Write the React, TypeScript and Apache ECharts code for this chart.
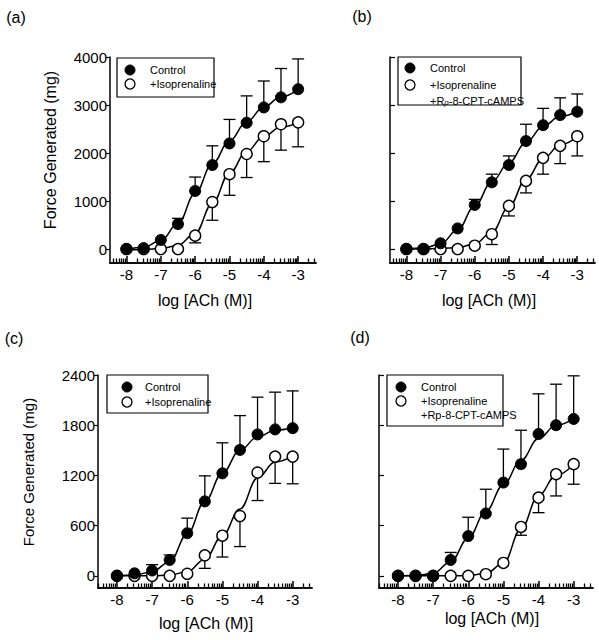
import React, { useEffect, useRef } from "react";
import * as echarts from "echarts";

const logConc = [-8, -7.5, -7, -6.5, -6, -5.5, -5, -4.5, -4, -3.5, -3];

// measured means (markers) and SEM (error bars)
const aControl = [0, 20, 190, 520, 1210, 1750, 2200, 2630, 2950, 3160, 3330];
const aControlErr = [0, 0, 0, 120, 290, 400, 500, 560, 550, 600, 630];
const aIso = [0, 0, 0, 0, 280, 980, 1560, 1980, 2350, 2600, 2640];
const aIsoErr = [0, 0, 0, 0, 150, 380, 440, 490, 530, 540, 510];

const bControl = [0, 0, 120, 430, 920, 1390, 1750, 2250, 2580, 2790, 2860];
const bControlErr = [0, 0, 0, 0, 115, 170, 190, 350, 350, 360, 370];
const bIso = [0, 0, 0, 0, 70, 310, 900, 1420, 1900, 2150, 2350];
const bIsoErr = [0, 0, 0, 0, 0, 215, 210, 250, 340, 370, 410];

const cControl = [0, 30, 64, 190, 510, 890, 1225, 1505, 1690, 1750, 1765];
const cControlErr = [0, 0, 70, 60, 180, 305, 365, 410, 445, 445, 445];
const cIso = [0, 0, 0, 0, 25, 245, 480, 715, 1235, 1425, 1425];
const cIsoErr = [0, 0, 0, 0, 0, 155, 255, 365, 335, 320, 325];

const dControl = [0, 0, 0, 190, 475, 745, 1115, 1335, 1695, 1800, 1875];
const dControlErr = [0, 0, 0, 90, 225, 290, 400, 405, 480, 490, 515];
const dIso = [0, 0, 0, 0, 0, 20, 155, 585, 935, 1215, 1335];
const dIsoErr = [0, 0, 0, 0, 0, 0, 0, 100, 180, 260, 240];

// fitted curves at the same concentrations
const aControlFit = [-10, 40, 180, 530, 1160, 1780, 2250, 2650, 2960, 3170, 3320];
const aIsoFit = [-20, -10, 10, 80, 330, 950, 1580, 2030, 2350, 2540, 2640];
const bControlFit = [0, 20, 110, 400, 900, 1400, 1800, 2220, 2560, 2760, 2870];
const bIsoFit = [0, 0, 10, 30, 110, 350, 880, 1450, 1880, 2170, 2340];
const cControlFit = [0, 10, 50, 170, 500, 890, 1230, 1500, 1660, 1740, 1770];
const cIsoFit = [0, 0, 0, 10, 50, 200, 480, 800, 1170, 1360, 1430];
const dControlFit = [0, 5, 30, 170, 450, 770, 1090, 1380, 1640, 1800, 1880];
const dIsoFit = [0, 0, 0, 0, 5, 30, 150, 560, 960, 1200, 1330];

const xTickLabels = [-8, -7, -6, -5, -4, -3];
const yTicksAB = [0, 1000, 2000, 3000, 4000];
const yTicksCD = [0, 600, 1200, 1800, 2400];

const FONT = "'Liberation Sans', Arial, sans-serif";
const NARROW = "'Liberation Sans Narrow', 'Liberation Sans', Arial, sans-serif";

// log-scale minor tick positions (2..9 within each decade)
function minorTicks(min: number, max: number) {
  const out: number[] = [];
  for (let d = -9; d <= -2; d++) {
    for (let k = 2; k <= 9; k++) {
      const v = d + Math.log10(k);
      if (v > min && v < max) out.push(v);
    }
  }
  return out;
}
function majorTicks(min: number, max: number) {
  const out: number[] = [];
  for (let d = -9; d <= -2; d++) if (d > min && d < max) out.push(d);
  return out;
}

export default function App() {
  const ref = useRef<HTMLDivElement>(null);
  useEffect(() => {
    if (!ref.current) return;
    const chart = echarts.init(ref.current, null, { renderer: "svg" });

    const panels = [
      { grid: { left: 110, top: 57, width: 206, height: 206 }, xmin: -8.48, xmax: -2.48, ymin: -290, ymax: 4000, yTicks: yTicksAB, labels: true, ctrl: aControl, ctrlErr: aControlErr, iso: aIso, isoErr: aIsoErr, ctrlFit: aControlFit, isoFit: aIsoFit },
      { grid: { left: 390, top: 57, width: 205, height: 206 }, xmin: -8.48, xmax: -2.48, ymin: -290, ymax: 4000, yTicks: yTicksAB, labels: false, ctrl: bControl, ctrlErr: bControlErr, iso: bIso, isoErr: bIsoErr, ctrlFit: bControlFit, isoFit: bIsoFit },
      { grid: { left: 98, top: 375, width: 214, height: 213 }, xmin: -8.54, xmax: -2.45, ymin: -145, ymax: 2400, yTicks: yTicksCD, labels: true, ctrl: cControl, ctrlErr: cControlErr, iso: cIso, isoErr: cIsoErr, ctrlFit: cControlFit, isoFit: cIsoFit },
      { grid: { left: 379, top: 375, width: 214, height: 213 }, xmin: -8.54, xmax: -2.45, ymin: -145, ymax: 2400, yTicks: yTicksCD, labels: false, ctrl: dControl, ctrlErr: dControlErr, iso: dIso, isoErr: dIsoErr, ctrlFit: dControlFit, isoFit: dIsoFit },
    ];

    const grids: any[] = [];
    const xAxes: any[] = [];
    const yAxes: any[] = [];
    const series: any[] = [];

    const errRender = (params: any, api: any) => {
      const x = api.value(0);
      const y0 = api.value(1);
      const y1 = api.value(2);
      if (y0 === y1) return { type: "group", children: [] };
      const p0 = api.coord([x, y0]);
      const p1 = api.coord([x, y1]);
      const st = { stroke: "#000", lineWidth: 1.3 };
      return {
        type: "group",
        children: [
          { type: "line", shape: { x1: p0[0], y1: p0[1], x2: p1[0], y2: p1[1] }, style: st },
          { type: "line", shape: { x1: p1[0] - 6, y1: p1[1], x2: p1[0] + 6, y2: p1[1] }, style: st },
        ],
      };
    };

    panels.forEach((p, i) => {
      grids.push({ ...p.grid, containLabel: false });
      // main axis: line, major ticks and labels
      xAxes.push({
        type: "value", gridIndex: i, min: p.xmin, max: p.xmax, position: "bottom",
        axisLine: { show: true, onZero: false, lineStyle: { color: "#000", width: 1.5 } },
        axisTick: { show: true, inside: true, length: 7, customValues: majorTicks(p.xmin, p.xmax), lineStyle: { color: "#000", width: 1.5 } },
        axisLabel: { show: true, customValues: xTickLabels, formatter: (v: number) => String(v), color: "#000", fontSize: 15, fontFamily: FONT, margin: 4 },
        splitLine: { show: false },
      });
      // overlay axis for the log minor ticks
      xAxes.push({
        type: "value", gridIndex: i, min: p.xmin, max: p.xmax, position: "bottom", offset: 0,
        axisLine: { show: true, onZero: false, lineStyle: { color: "#000", width: 1.5 } },
        axisTick: { show: true, inside: true, length: 4.5, customValues: minorTicks(p.xmin, p.xmax), lineStyle: { color: "#000", width: 1.3 } },
        axisLabel: { show: false },
        splitLine: { show: false },
      });
      yAxes.push({
        type: "value", gridIndex: i, min: p.ymin, max: p.ymax,
        axisLine: { show: true, onZero: false, lineStyle: { color: "#000", width: 1.5 } },
        axisTick: { show: true, inside: !p.labels, length: p.labels ? 4 : 5, customValues: p.yTicks, lineStyle: { color: "#000", width: 1.2 } },
        axisLabel: { show: p.labels, customValues: p.yTicks, formatter: (v: number) => String(v), color: "#000", fontSize: 15, fontFamily: FONT, margin: 3 },
        splitLine: { show: false },
      });
      const xi = i * 2;
      const ctrlPts = logConc.map((x, j) => [x, p.ctrl[j]]);
      const isoPts = logConc.map((x, j) => [x, p.iso[j]]);
      series.push({ type: "line", xAxisIndex: xi, yAxisIndex: i, data: logConc.map((x, j) => [x, p.isoFit[j]]), smooth: 0.4, smoothMonotone: "x", showSymbol: false, lineStyle: { color: "#000", width: 1.5 }, z: 2 });
      series.push({ type: "line", xAxisIndex: xi, yAxisIndex: i, data: logConc.map((x, j) => [x, p.ctrlFit[j]]), smooth: 0.4, smoothMonotone: "x", showSymbol: false, lineStyle: { color: "#000", width: 1.5 }, z: 2 });
      series.push({ type: "custom", xAxisIndex: xi, yAxisIndex: i, renderItem: errRender, encode: { x: 0, y: [1, 2] }, data: logConc.map((x, j) => [x, p.iso[j], p.iso[j] - p.isoErr[j]]), z: 1 });
      series.push({ type: "custom", xAxisIndex: xi, yAxisIndex: i, renderItem: errRender, encode: { x: 0, y: [1, 2] }, data: logConc.map((x, j) => [x, p.ctrl[j], p.ctrl[j] + p.ctrlErr[j]]), z: 1 });
      series.push({ type: "scatter", xAxisIndex: xi, yAxisIndex: i, data: isoPts, symbol: "circle", symbolSize: 11, itemStyle: { color: "#fff", borderColor: "#000", borderWidth: 1.4, opacity: 1 }, z: 3 });
      series.push({ type: "scatter", xAxisIndex: xi, yAxisIndex: i, data: ctrlPts, symbol: "circle", symbolSize: 11, itemStyle: { color: "#000", borderColor: "#000", borderWidth: 1, opacity: 1 }, z: 4 });
    });

    const txt = (x: number, y: number, text: string, size: number, extra: any = {}) => ({
      type: "text", x, y, style: { text, fontSize: size, fontFamily: FONT, fill: "#000", align: "center", verticalAlign: "middle" }, ...extra,
    });

    const legend = (bx: number, by: number, bw: number, bh: number, cx: number, rows: number[], tx: number, third: boolean, sub: boolean) => {
      const els: any[] = [
        { type: "rect", shape: { x: bx, y: by, width: bw, height: bh }, style: { fill: "#fff", stroke: "#000", lineWidth: 1.2 }, z: 10 },
        { type: "circle", shape: { cx, cy: rows[0], r: 5 }, style: { fill: "#000", stroke: "#000", lineWidth: 1 }, z: 11 },
        { type: "circle", shape: { cx, cy: rows[1], r: 5 }, style: { fill: "#fff", stroke: "#000", lineWidth: 1.3 }, z: 11 },
        { type: "text", x: tx, y: rows[0], style: { text: "Control", fontSize: 11, fontFamily: NARROW, fill: "#000", align: "left", verticalAlign: "middle" }, z: 11 },
        { type: "text", x: tx, y: rows[1], style: { text: "+Isoprenaline", fontSize: 11, fontFamily: NARROW, fill: "#000", align: "left", verticalAlign: "middle" }, z: 11 },
      ];
      if (third) {
        els.push({
          type: "text", x: tx, y: rows[2], z: 11,
          style: sub
            ? { text: "+R{s|p}-8-CPT-cAMPS", rich: { s: { fontSize: 8, fontFamily: NARROW, fontStyle: "italic", padding: [3, 0, 0, 0] } }, fontSize: 11, fontFamily: NARROW, fill: "#000", align: "left", verticalAlign: "middle" }
            : { text: "+Rp-8-CPT-cAMPS", fontSize: 11, fontFamily: NARROW, fill: "#000", align: "left", verticalAlign: "middle" },
        });
      }
      return els;
    };

    const graphic: any[] = [
      txt(16, 17, "(a)", 16),
      txt(362, 16, "(b)", 16),
      txt(14, 338, "(c)", 16),
      txt(360, 337, "(d)", 16),
      txt(205, 300, "log [ACh (M)]", 16),
      txt(489, 300, "log [ACh (M)]", 16),
      txt(206, 623, "log [ACh (M)]", 16),
      txt(492, 618, "log [ACh (M)]", 16),
      txt(50, 150, "Force Generated (mg)", 16, { rotation: Math.PI / 2 }),
      txt(28, 472, "Force Generated (mg)", 15, { rotation: Math.PI / 2 }),
      ...legend(117, 58, 97, 39, 130, [70, 84], 150, false, false),
      ...legend(398, 57, 123, 48, 410, [68, 85, 101], 430, true, true),
      ...legend(107, 375, 101, 38, 127, [387, 402], 145, false, false),
      ...legend(387, 375, 116, 51, 401, [387, 401, 415], 421, true, false),
    ];

    chart.setOption({
      animation: false,
      backgroundColor: "#fff",
      grid: grids,
      xAxis: xAxes,
      yAxis: yAxes,
      series,
      graphic,
    });
    return () => chart.dispose();
  }, []);
  return <div ref={ref} style={{ position: "absolute", left: 0, top: 0, width: 599, height: 640 }} />;
}
